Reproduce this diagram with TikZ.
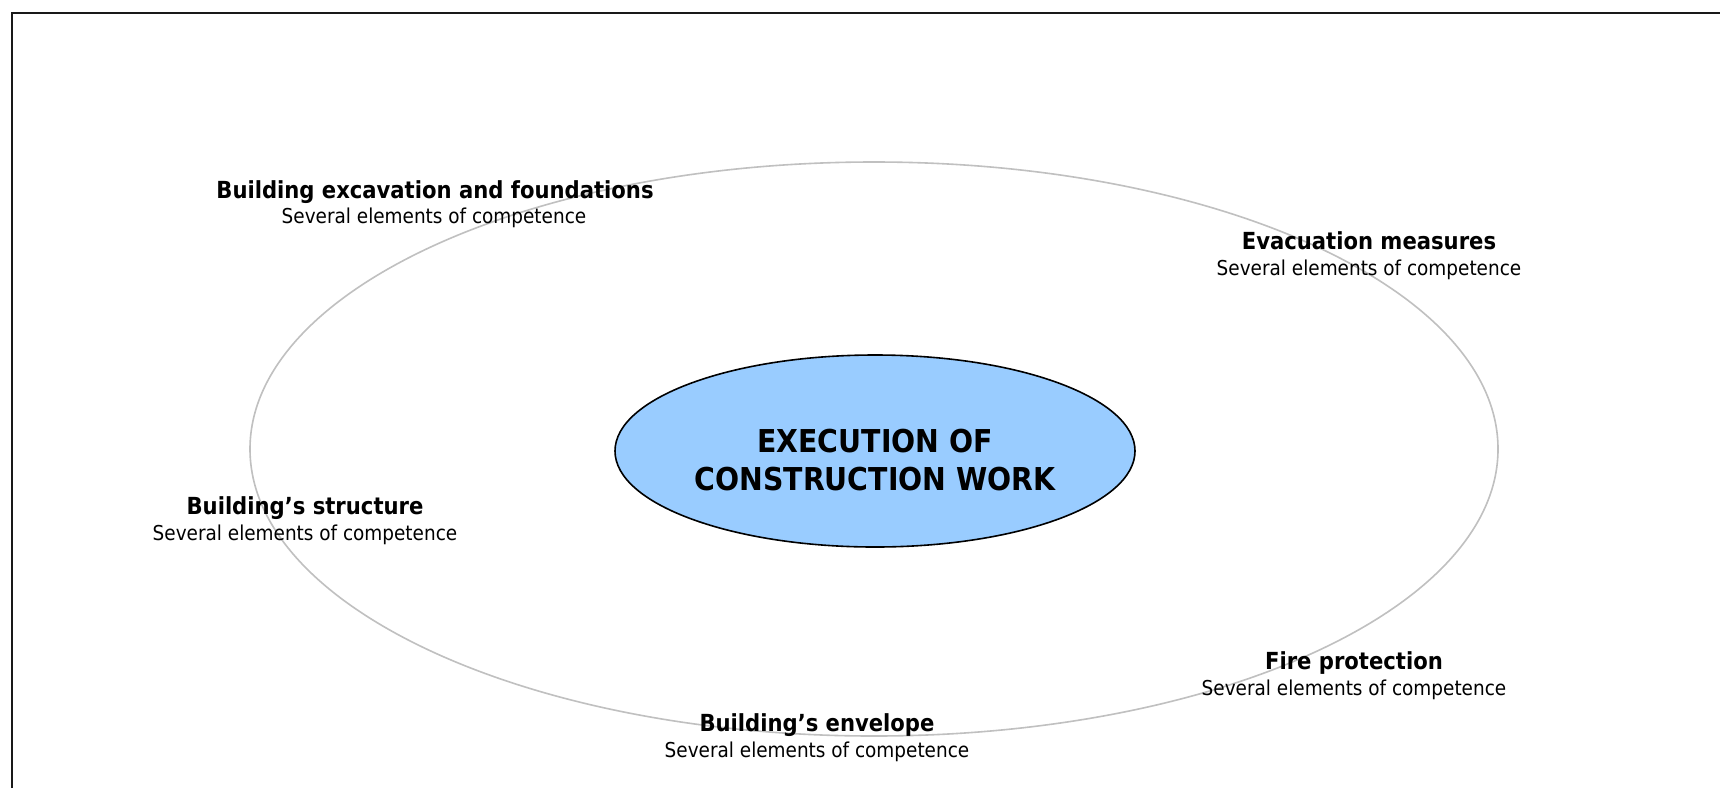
\documentclass[tikz,border=0pt]{standalone}
\usepackage{fontspec}
\setmainfont{DejaVu Sans Condensed}
\usetikzlibrary{shapes.geometric}
\definecolor{coreblue}{RGB}{153,204,255}
\definecolor{ringgray}{RGB}{192,192,192}
\tikzset{
  titletext/.style={anchor=base, inner sep=0pt, font=\fontsize{23.5}{28}\selectfont\bfseries},
  subtext/.style={anchor=base, inner sep=0pt, font=\fontsize{20.5}{24}\selectfont},
  coretext/.style={anchor=base, inner sep=0pt, font=\fontsize{31.5}{36}\selectfont\bfseries},
}
\begin{document}
\begin{tikzpicture}[x=1pt,y=-1pt]
\useasboundingbox (0,0) rectangle (1720,788);
\fill[white] (0,0) rectangle (1720,788);
% frame (cropped on right and bottom)
\draw[line width=2.4pt, black!90] (12,788) -- (12,13) -- (1720,13);
% outer ring
\draw[ringgray, line width=1.6pt] (874,449) ellipse [x radius=624, y radius=287];
% core
\draw[fill=coreblue, line width=1.6pt] (875,451) ellipse [x radius=260, y radius=96];
\node[coretext] (core1) at (875,452) {EXECUTION OF};
\node[coretext] (core2) at (875,490) {CONSTRUCTION WORK};
% labels
\node[titletext] (bef) at (435,198) {Building excavation and foundations};
\node[subtext] (befs) at (434,223.5) {Several elements of competence};
\node[titletext] (evac) at (1369,249) {Evacuation measures};
\node[subtext] (evacs) at (1369,275) {Several elements of competence};
\node[titletext] (struct) at (305,514.5) {Building’s structure};
\node[subtext] (structs) at (305,540.5) {Several elements of competence};
\node[titletext] (fire) at (1354,669.5) {Fire protection};
\node[subtext] (fires) at (1354,695.5) {Several elements of competence};
\node[titletext] (env) at (817,731) {Building’s envelope};
\node[subtext] (envs) at (817,757) {Several elements of competence};
\end{tikzpicture}
\end{document}
